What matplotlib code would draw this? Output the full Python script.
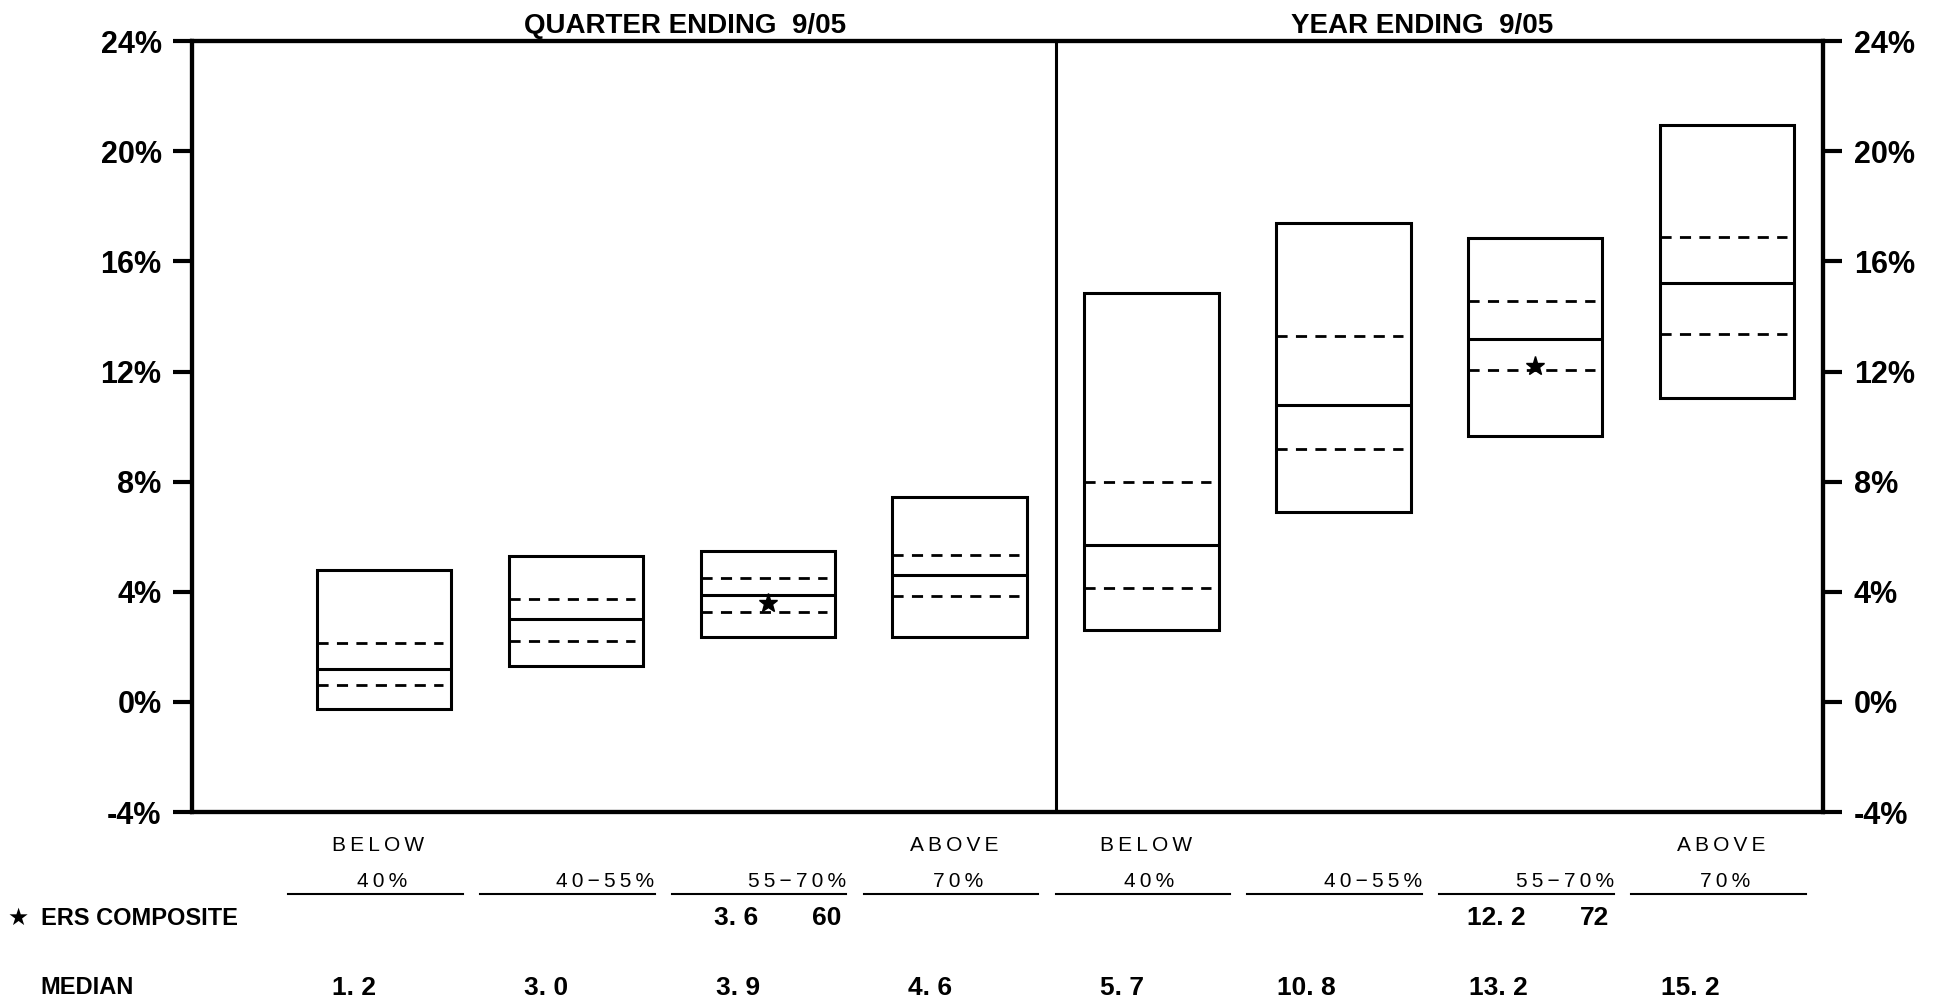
import matplotlib
matplotlib.use("Agg")
import matplotlib.pyplot as plt
import matplotlib.transforms as mtransforms

# box data: quarter (4 groups) then year (4 groups)
x_pos = [1, 2, 3, 4, 5, 6, 7, 8]
box_top = [4.8, 5.3, 5.5, 7.45, 14.85, 17.4, 16.85, 20.95]
box_upper_q = [2.15, 3.75, 4.5, 5.35, 8.0, 13.3, 14.55, 16.9]
box_median = [1.2, 3.0, 3.9, 4.6, 5.7, 10.8, 13.2, 15.2]
box_lower_q = [0.6, 2.2, 3.25, 3.85, 4.15, 9.2, 12.05, 13.35]
box_bottom = [-0.25, 1.3, 2.35, 2.35, 2.6, 6.9, 9.65, 11.05]

# ERS composite: (group index, return, rank)
ers_idx = [2, 6]
ers_value = [3.6, 12.2]
ers_rank = [60, 72]

cat_line1 = ["BELOW", "", "", "ABOVE", "BELOW", "", "", "ABOVE"]
cat_line2 = ["40%", "40\u221255%", "55\u221270%", "70%", "40%", "40\u221255%", "55\u221270%", "70%"]

panel_titles = ["QUARTER ENDING  9/05", "YEAR ENDING  9/05"]
yticks = [-4, 0, 4, 8, 12, 16, 20, 24]

narrow = ["Liberation Sans Narrow", "Liberation Sans", "DejaVu Sans"]
regular = ["Liberation Sans", "DejaVu Sans"]

fig = plt.figure(figsize=(19.44, 10.05), dpi=100)
ax = fig.add_axes([0.0988, 0.192, 0.839, 0.767])

w = 0.7
for i, x in enumerate(x_pos):
    ax.bar(x, box_top[i] - box_bottom[i], bottom=box_bottom[i], width=w,
           fill=False, edgecolor="black", linewidth=2.2)
    ax.hlines(box_median[i], x - w / 2, x + w / 2, color="black", linewidth=2.2)
    ax.hlines([box_upper_q[i], box_lower_q[i]], x - w / 2, x + w / 2 - 0.04,
              color="black", linewidth=2.0, linestyles=(0, (4, 3)))

for k, i in enumerate(ers_idx):
    ax.plot(x_pos[i], ers_value[k], marker="*", color="black", markersize=14, zorder=5)

ax.axvline(4.5, color="black", linewidth=2.2)
ax.set_xlim(0, 8.5)
ax.set_ylim(-4, 24)
ax.set_xticks([])
ax.set_yticks(yticks)
ax.set_yticklabels([f"{t}%" for t in yticks])
for s in ax.spines.values():
    s.set_linewidth(3)
ax.tick_params(axis="y", length=14, width=3, pad=8)
for lab in ax.get_yticklabels():
    lab.set_fontfamily(narrow)
    lab.set_fontweight("bold")
    lab.set_fontsize(22)

ax2 = ax.twinx()
ax2.set_ylim(ax.get_ylim())
ax2.set_yticks(yticks)
ax2.set_yticklabels([f"{t}%" for t in yticks])
ax2.tick_params(axis="y", length=14, width=3, pad=8)
for lab in ax2.get_yticklabels():
    lab.set_fontfamily(narrow)
    lab.set_fontweight("bold")
    lab.set_fontsize(22)
    lab.set_horizontalalignment("left")
for s in ax2.spines.values():
    s.set_linewidth(3)

trans = mtransforms.blended_transform_factory(ax.transData, ax.transAxes)

ax.text(2.57, 1.003, panel_titles[0], transform=trans, ha="center", va="bottom",
        fontsize=20, fontweight="bold", family=narrow)
ax.text(6.41, 1.003, panel_titles[1], transform=trans, ha="center", va="bottom",
        fontsize=20, fontweight="bold", family=narrow)

def spaced(s):
    return "\u2009".join(s)

for i, x in enumerate(x_pos):
    if cat_line1[i]:
        ax.text(x - 0.03, -0.044, spaced(cat_line1[i]), transform=trans, ha="center",
                va="center", fontsize=15, family=regular, clip_on=False)
    if cat_line1[i] or cat_line2[i] in ("40%", "70%"):
        ax.text(x - 0.01, -0.09, spaced(cat_line2[i]), transform=trans, ha="center",
                va="center", fontsize=15, family=regular, clip_on=False)
    else:
        ax.text(x + 0.41, -0.09, spaced(cat_line2[i]), transform=trans, ha="right",
                va="center", fontsize=15, family=regular, clip_on=False)
    ax.plot([x - 0.5, x + 0.41], [-0.106, -0.106], transform=trans, color="black",
            linewidth=1.5, clip_on=False)
    ax.text(x - 0.04, -0.228, f"{box_median[i]:.1f}".replace(".", ". "), transform=trans,
            ha="right", va="center", fontsize=19, fontweight="bold", family=narrow,
            clip_on=False)

for k, i in enumerate(ers_idx):
    x = x_pos[i]
    ax.text(x - 0.05, -0.137, f"{ers_value[k]:.1f}".replace(".", ". "), transform=trans,
            ha="right", va="center", fontsize=19, fontweight="bold", family=narrow,
            clip_on=False)
    ax.text(x + 0.23, -0.137, str(ers_rank[k]), transform=trans,
            ha="left", va="center", fontsize=19, fontweight="bold", family=narrow,
            clip_on=False)

fig.text(0.004, 0.0865, "\u2605", fontsize=17, va="center", ha="left", family=["DejaVu Sans"])
fig.text(0.021, 0.0865, "ERS COMPOSITE", fontsize=17, fontweight="bold", va="center",
         ha="left", family=narrow)
fig.text(0.021, 0.017, "MEDIAN", fontsize=17, fontweight="bold", va="center",
         ha="left", family=narrow)

fig.savefig("out.png", dpi=100)
